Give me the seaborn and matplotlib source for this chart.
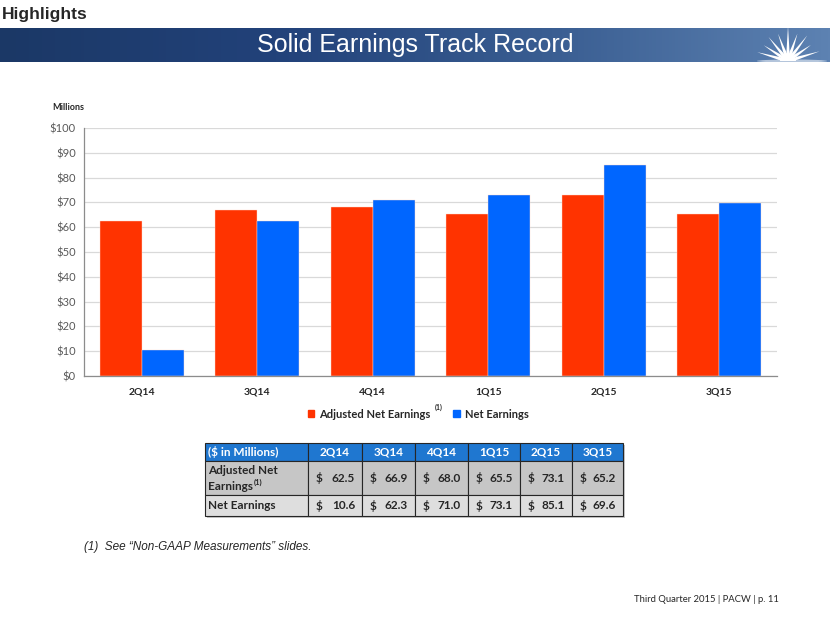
import matplotlib
matplotlib.use("Agg")
import matplotlib.pyplot as plt
import numpy as np
import pandas as pd
import seaborn as sns
from matplotlib.colors import LinearSegmentedColormap
from matplotlib.patches import Rectangle, Polygon, Wedge, Ellipse

# Daten
quarters = ["2Q14", "3Q14", "4Q14", "1Q15", "2Q15", "3Q15"]
adjusted_net = [62.5, 66.9, 68.0, 65.5, 73.1, 65.2]
net_earnings = [10.6, 62.3, 71.0, 73.1, 85.1, 69.6]
series_names = ["Adjusted Net Earnings", "Net Earnings"]
y_ticks = [0, 10, 20, 30, 40, 50, 60, 70, 80, 90, 100]

RED = "#FF3300"
BLUE = "#0066FF"
NARROW = ["Liberation Sans Narrow", "Liberation Sans", "DejaVu Sans"]
BODY = ["Lato", "DejaVu Sans"]

W, H = 830, 623

sns.set_style("white")
plt.rcParams["font.family"] = BODY


def fx(px):
    return px / W


def fy(py):
    return 1 - py / H


fig = plt.figure(figsize=(W / 100, H / 100), dpi=100)

# Kopfzeile
fig.text(fx(2), fy(15), "Highlights", fontsize=12.5, fontweight="bold", family=NARROW, va="center", ha="left")

band = fig.add_axes([0, fy(62), 1, fy(28) - fy(62)])
grad_cmap = LinearSegmentedColormap.from_list("band", ["#1B3866", "#22427A", "#3A5E92", "#5D82B2"])
band.imshow(np.linspace(0, 1, 256)[None, :], aspect="auto", cmap=grad_cmap, extent=[0, W, 62, 28])
band.set_xlim(0, W)
band.set_ylim(62, 28)
band.axis("off")
band.text(415, 45, "Solid Earnings Track Record", color="white", fontsize=18, family=NARROW,
          ha="center", va="center")

# Logo (Sonne)
cx, cy = 788, 61
band.add_patch(Ellipse((792, 61), 70, 3, color="#DCE5F0", lw=0, alpha=0.7))
ray_angles = [164, 147, 129, 110, 90, 71, 53, 35, 17]
ray_lengths = [32, 29, 31, 29, 35, 29, 32, 28, 33]
for ang, ln in zip(ray_angles, ray_lengths):
    a = np.deg2rad(ang)
    da = np.deg2rad(10)
    tip = (cx + ln * np.cos(a), cy - ln * np.sin(a))
    b1 = (cx + 9 * np.cos(a - da), cy - 9 * np.sin(a - da))
    b2 = (cx + 9 * np.cos(a + da), cy - 9 * np.sin(a + da))
    band.add_patch(Polygon([b1, tip, b2, (cx, cy)], closed=True, color="white", lw=0))
band.add_patch(Wedge((cx, cy), 8, 180, 360, color="white", lw=0))

# Diagramm
df = pd.DataFrame({
    "Quarter": quarters * 2,
    "Value": adjusted_net + net_earnings,
    "Series": [series_names[0]] * len(quarters) + [series_names[1]] * len(quarters),
})

ax = fig.add_axes([fx(84), fy(376), fx(777) - fx(84), fy(128) - fy(376)])
sns.barplot(data=df, x="Quarter", y="Value", hue="Series", palette=[RED, BLUE], width=0.73,
            saturation=1, ax=ax, legend=False, edgecolor="#FFD9CC", linewidth=0.3)
ax.set_xlim(-0.5, len(quarters) - 0.5)
ax.set_ylim(0, 100)
ax.set_yticks(y_ticks)
ax.set_yticklabels([f"${v}" for v in y_ticks])
ax.set_xlabel("")
ax.set_ylabel("")
ax.yaxis.grid(True, color="#D9D9D9", lw=0.9)
ax.set_axisbelow(True)
for side in ["top", "right"]:
    ax.spines[side].set_visible(False)
for side in ["left", "bottom"]:
    ax.spines[side].set_color("#8C8C8C")
    ax.spines[side].set_linewidth(0.9)
ax.tick_params(axis="y", direction="out", length=4, width=0.8, color="#8C8C8C",
               labelcolor="#595959", labelsize=8, pad=2)
ax.tick_params(axis="x", which="major", length=0, labelsize=7.5, labelcolor="#262626", pad=8)
ax.set_xticks(np.arange(-0.5, len(quarters), 1), minor=True)
ax.tick_params(axis="x", which="minor", direction="out", length=4, width=0.8, color="#8C8C8C")
for lbl in ax.get_xticklabels():
    lbl.set_fontweight("bold")

fig.text(fx(52), fy(107), "Millions", fontsize=6.5, fontweight="bold", va="center", ha="left")

# Legende
handles = [Rectangle((0, 0), 1, 1, color=RED), Rectangle((0, 0), 1, 1, color=BLUE)]
leg = fig.legend(handles, series_names, loc="center", bbox_to_anchor=(fx(418), fy(414)), ncol=2,
                 frameon=False, handlelength=0.6, handleheight=0.6, handletextpad=0.45,
                 columnspacing=2.0, prop=dict(weight="bold", size=8))

# Tabelle
col_edges = [205, 308, 362, 415, 468, 520, 572, 623]
row_edges = [443, 461, 495, 516]
header_color = "#1F77D0"
row_colors = ["#C6C6C6", "#DEDEDE"]

fig.patches.append(Rectangle((fx(col_edges[0] + 2), fy(row_edges[-1] + 2)),
                             fx(col_edges[-1]) - fx(col_edges[0]), fy(row_edges[0]) - fy(row_edges[-1]),
                             transform=fig.transFigure, facecolor="#C8C8C8", lw=0, zorder=0))
fills = [header_color] + row_colors
for r in range(3):
    for c in range(len(col_edges) - 1):
        x0, x1 = col_edges[c], col_edges[c + 1]
        y0, y1 = row_edges[r], row_edges[r + 1]
        fig.patches.append(Rectangle((fx(x0), fy(y1)), fx(x1) - fx(x0), fy(y0) - fy(y1),
                                     transform=fig.transFigure, facecolor=fills[r],
                                     edgecolor="#262626", lw=0.8, zorder=1))

tsize = 8.5
hy = (row_edges[0] + row_edges[1]) / 2
fig.text(fx(col_edges[0] + 3), fy(hy), "($ in Millions)", color="white", fontweight="bold",
         fontsize=tsize, ha="left", va="center")
for c, q in enumerate(quarters):
    xm = (col_edges[c + 1] + col_edges[c + 2]) / 2
    fig.text(fx(xm), fy(hy), q, color="white", fontweight="bold", fontsize=tsize, ha="center", va="center")

r2 = (row_edges[1] + row_edges[2]) / 2
r3 = (row_edges[2] + row_edges[3]) / 2
fig.text(fx(col_edges[0] + 3), fy(470), "Adjusted Net", fontweight="bold", fontsize=tsize, ha="left", va="center")
earn = fig.text(fx(col_edges[0] + 3), fy(487), "Earnings", fontweight="bold", fontsize=tsize, ha="left", va="center")
fig.text(fx(col_edges[0] + 3), fy(r3), "Net Earnings", fontweight="bold", fontsize=tsize, ha="left", va="center")

for row_y, values in [(r2, adjusted_net), (r3, net_earnings)]:
    for c, v in enumerate(values):
        x0, x1 = col_edges[c + 1], col_edges[c + 2]
        fig.text(fx(x0 + 8), fy(row_y), "$", fontweight="bold", fontsize=tsize, ha="left", va="center")
        fig.text(fx(x1 - 7), fy(row_y), f"{v:.1f}", fontweight="bold", fontsize=tsize, ha="right", va="center")

# Fussnoten
fig.text(fx(84), fy(547), "(1)  See \u201cNon-GAAP Measurements\u201d slides.", fontsize=8.5, style="italic",
         family=NARROW, ha="left", va="center")
fig.text(fx(779), fy(599), "Third Quarter 2015 | PACW | p. 11", fontsize=6.8, ha="right", va="center")

# Hochgestellte (1) hinter Texten platzieren
fig.canvas.draw()
renderer = fig.canvas.get_renderer()
inv = fig.transFigure.inverted()
bb = leg.get_texts()[0].get_window_extent(renderer)
x_end, _ = inv.transform((bb.x1, bb.y1))
fig.text(x_end + fx(4), fy(407), "(1)", fontsize=5, fontweight="bold", ha="left", va="center")
bb = earn.get_window_extent(renderer)
x_end, _ = inv.transform((bb.x1, bb.y1))
fig.text(x_end + fx(1), fy(482), "(1)", fontsize=5.5, fontweight="bold", ha="left", va="center")

fig.savefig("out.png", dpi=100)
